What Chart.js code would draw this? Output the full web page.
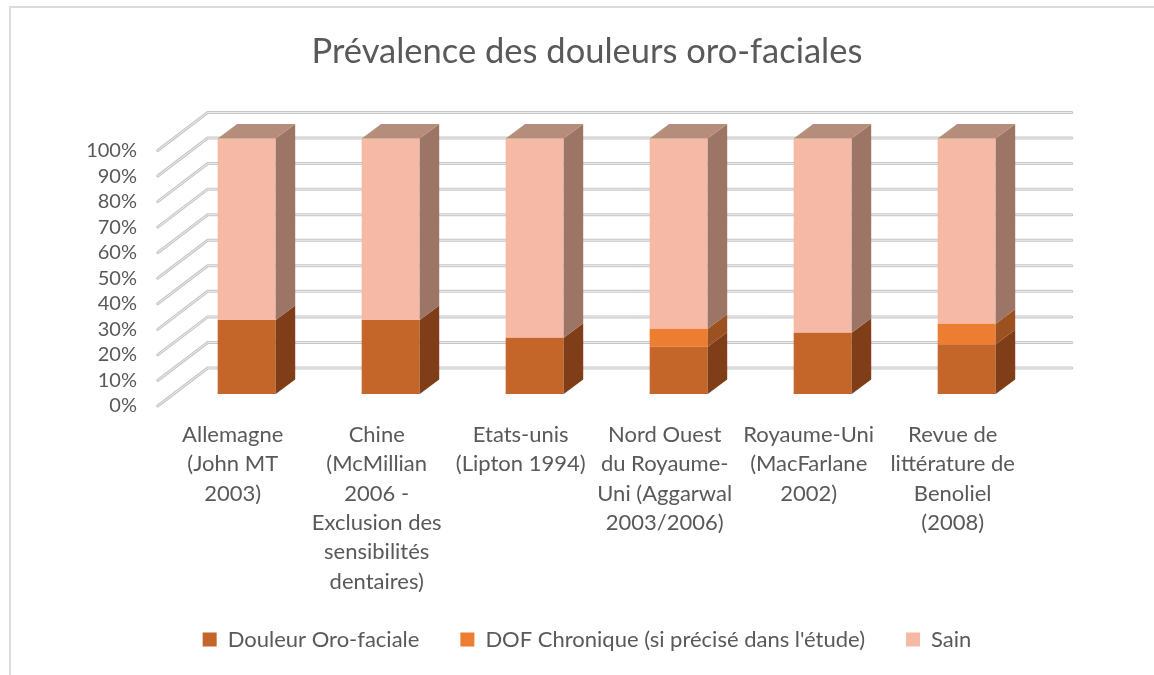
<!DOCTYPE html>
<html lang="fr">
<head>
<meta charset="utf-8">
<title>Prévalence des douleurs oro-faciales</title>
<script src="https://cdn.jsdelivr.net/npm/chart.js@4.4.1/dist/chart.umd.min.js"></script>
<style>
  html, body { margin: 0; padding: 0; background: #fff; overflow: hidden; }
  #wrap { position: relative; width: 1154px; height: 675px; }
  #frame {
    position: absolute; left: 9px; top: 6px; width: 1200px; height: 700px;
    border-left: 2px solid #dcdcdc; border-top: 2px solid #dcdcdc;
    pointer-events: none;
  }
  canvas { position: absolute; left: 0; top: 0; }
</style>
</head>
<body>
<div id="wrap">
  <canvas id="chart" width="1154" height="675"></canvas>
  <div id="frame"></div>
</div>
<script>
// data
const categories = [
  ['Allemagne', '(John MT', '2003)'],
  ['Chine', '(McMillian', '2006 -', 'Exclusion des', 'sensibilités', 'dentaires)'],
  ['Etats-unis', '(Lipton 1994)'],
  ['Nord Ouest', 'du Royaume-', 'Uni (Aggarwal', '2003/2006)'],
  ['Royaume-Uni', '(MacFarlane', '2002)'],
  ['Revue de', 'littérature de', 'Benoliel', '(2008)']
];
const douleurValues = [29, 29, 22, 18.5, 24, 19.5];
const dofChroniqueValues = [0, 0, 0, 7, 0, 8];
const sainValues = [71, 71, 78, 74.5, 76, 72.5];
const seriesNames = ['Douleur Oro-faciale', "DOF Chronique (si précisé dans l'étude)", 'Sain'];
const yTicks = [0, 10, 20, 30, 40, 50, 60, 70, 80, 90, 100];

const FONT = 'Lato, "Open Sans", sans-serif';
const TEXT = '#595959';

// colours for front / side / top faces
const frontColors = ['#C4652A', '#ED7D31', '#F5B9A5'];
const sideColors = ['#7F3E17', '#9B5120', '#9C7566'];
const topColor = '#B68C7B';

// 3d look: bar depth and wall offsets (px)
const DX = 19.5, DY = 14.5;
const WALL_DX = 33, WALL_DY = 26;
const EDGE_DX = 17, EDGE_DY = 12;

const depth3d = {
  id: 'depth3d',
  beforeDatasetsDraw(chart) {
    const { ctx, chartArea } = chart;
    const ys = chart.scales.y;
    ctx.save();
    ctx.lineCap = 'round';
    yTicks.forEach(v => {
      const py = ys.getPixelForValue(v);
      const pts = [
        [chartArea.left - EDGE_DX, py + EDGE_DY],
        [chartArea.left + WALL_DX, py - WALL_DY],
        [chartArea.right + WALL_DX, py - WALL_DY]
      ];
      [[3, '#c6c6c6'], [1, '#eeeeee']].forEach(([w, c]) => {
        ctx.beginPath();
        ctx.moveTo(pts[0][0], pts[0][1]);
        ctx.lineTo(pts[1][0], pts[1][1]);
        ctx.lineTo(pts[2][0], pts[2][1]);
        ctx.lineWidth = w;
        ctx.strokeStyle = c;
        ctx.stroke();
      });
    });
    ctx.restore();
  },
  afterDatasetsDraw(chart) {
    const { ctx } = chart;
    const last = chart.data.datasets.length - 1;
    ctx.save();
    chart.data.datasets.forEach((ds, i) => {
      const meta = chart.getDatasetMeta(i);
      meta.data.forEach(bar => {
        const { x, y, base, width } = bar.getProps(['x', 'y', 'base', 'width'], true);
        if (Math.abs(base - y) < 0.5) return;
        const l = x - width / 2, r = x + width / 2;
        ctx.fillStyle = sideColors[i];
        ctx.beginPath();
        ctx.moveTo(r, y);
        ctx.lineTo(r + DX, y - DY);
        ctx.lineTo(r + DX, base - DY);
        ctx.lineTo(r, base);
        ctx.closePath();
        ctx.fill();
        if (i === last) {
          ctx.fillStyle = topColor;
          ctx.beginPath();
          ctx.moveTo(l, y);
          ctx.lineTo(l + DX, y - DY);
          ctx.lineTo(r + DX, y - DY);
          ctx.lineTo(r, y);
          ctx.closePath();
          ctx.fill();
        }
      });
    });
    ctx.restore();
  }
};

const seriesValues = [douleurValues, dofChroniqueValues, sainValues];

new Chart(document.getElementById('chart').getContext('2d'), {
  type: 'bar',
  data: {
    labels: categories,
    datasets: seriesValues.map((vals, i) => ({
      label: seriesNames[i],
      data: vals,
      backgroundColor: frontColors[i],
      borderWidth: 0,
      barPercentage: 0.403,
      categoryPercentage: 1
    }))
  },
  options: {
    responsive: false,
    animation: false,
    devicePixelRatio: 1,
    layout: { padding: { left: 20, right: 0, top: 0, bottom: 14.5 } },
    scales: {
      x: {
        stacked: true,
        grid: { display: false, drawTicks: false },
        border: { display: false },
        ticks: {
          autoSkip: false,
          maxRotation: 0,
          minRotation: 0,
          padding: 26.3,
          labelOffset: -14,
          color: TEXT,
          font: { family: FONT, size: 22, lineHeight: 1.332 }
        },
        afterFit(s) {
          s.height = 193.5;
          // long "Chine" label runs past the axis box: don't clip it
          s._computeLabelArea = () => null;
        }
      },
      y: {
        stacked: true,
        min: 0,
        max: 100,
        grid: { display: false, drawTicks: false },
        border: { display: false },
        afterBuildTicks(s) { s.ticks = yTicks.map(v => ({ value: v })); },
        ticks: {
          autoSkip: false,
          padding: 37.7,
          labelOffset: 12,
          color: TEXT,
          font: { family: FONT, size: 20 },
          callback: v => v + '%'
        },
        afterFit(s) { s.width = 154.7; }
      },
      yRight: {
        type: 'linear',
        position: 'right',
        display: true,
        grid: { display: false, drawTicks: false },
        border: { display: false },
        ticks: { display: false },
        afterFit(s) { s.width = 115.3; }
      }
    },
    plugins: {
      title: {
        display: true,
        text: 'Prévalence des douleurs oro-faciales',
        color: TEXT,
        font: { family: FONT, size: 34.5, weight: 'normal', lineHeight: 1.2 },
        padding: { top: 31, bottom: 66.1 }
      },
      legend: {
        position: 'bottom',
        labels: {
          boxWidth: 14,
          boxHeight: 14,
          padding: 41,
          color: TEXT,
          font: { family: FONT, size: 22 }
        }
      },
      tooltip: { enabled: false }
    }
  },
  plugins: [depth3d]
});
</script>
</body>
</html>
